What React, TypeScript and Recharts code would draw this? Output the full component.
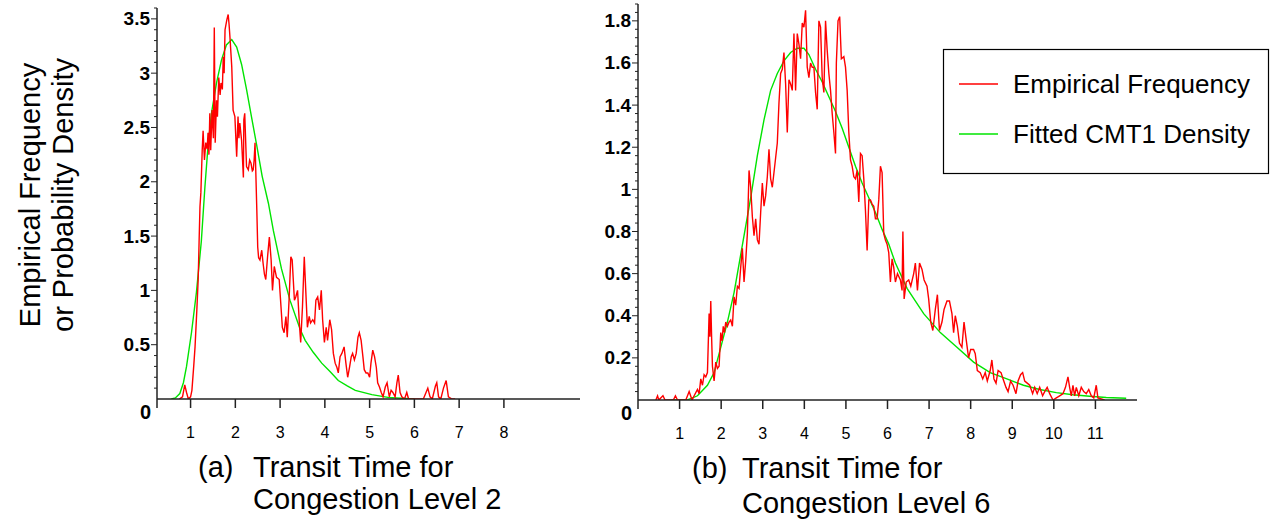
import React from "react"
import { LineChart, Line, XAxis, YAxis } from "recharts"

const FONT = '"Liberation Sans", Arial, sans-serif'
const RED = "#ff0000"
const GREEN = "#00e400"
const AXIS = "#222"

// (a) congestion level 2 — empirical frequency
const level2EmpiricalT = [
  0.75, 0.82, 0.87, 0.91, 0.95, 1.0, 1.03, 1.07, 1.1, 1.14, 1.17, 1.19, 1.21, 1.23, 1.26, 1.28, 1.31, 1.34,
  1.37, 1.39, 1.41, 1.43, 1.45, 1.48, 1.51, 1.53, 1.55, 1.58, 1.6, 1.63, 1.66, 1.68, 1.71, 1.73, 1.75, 1.77,
  1.81, 1.84, 1.86, 1.88, 1.92, 1.95, 1.99, 2.03, 2.06, 2.08, 2.1, 2.14, 2.18, 2.19, 2.21, 2.25, 2.29, 2.32,
  2.35, 2.38, 2.4, 2.42, 2.44, 2.48, 2.5, 2.52, 2.55, 2.59, 2.62, 2.65, 2.68, 2.72, 2.76, 2.8, 2.83, 2.87,
  2.92, 2.98, 3.02, 3.05, 3.09, 3.13, 3.16, 3.2, 3.24, 3.27, 3.32, 3.35, 3.39, 3.43, 3.46, 3.5, 3.54, 3.57,
  3.61, 3.65, 3.68, 3.73, 3.77, 3.8, 3.84, 3.88, 3.92, 3.95, 3.99, 4.03, 4.06, 4.11, 4.15, 4.19, 4.23, 4.27,
  4.3, 4.34, 4.38, 4.43, 4.47, 4.51, 4.55, 4.59, 4.62, 4.66, 4.7, 4.74, 4.77, 4.81, 4.85, 4.88, 4.92, 4.96,
  5.0, 5.03, 5.07, 5.11, 5.15, 5.18, 5.22, 5.26, 5.3, 5.35, 5.39, 5.44, 5.48, 5.52, 5.57, 5.61, 5.64, 5.68,
  5.72, 5.78, 5.83, 5.87, 6.2, 6.26, 6.3, 6.35, 6.4, 6.47, 6.5, 6.54, 6.59, 6.65, 6.71, 6.76, 6.84, 6.91,
]
const level2EmpiricalF = [
  0, 0.02, 0.13, 0.06, 0, 0.02, 0.08, 0.3, 0.48, 0.82, 1.1, 1.44, 1.77, 1.9, 2.29, 2.47, 2.2, 2.36,
  2.3, 2.45, 2.25, 2.63, 2.29, 2.66, 2.4, 3.42, 2.36, 2.75, 2.6, 2.96, 2.8, 2.91, 2.85, 3.15, 3.0, 3.4,
  3.49, 3.54, 3.45, 3.33, 3.06, 2.66, 2.6, 2.23, 2.6, 2.4, 2.54, 2.38, 2.04, 2.57, 2.63, 2.14, 2.11, 2.2,
  2.17, 2.1, 2.11, 2.2, 2.36, 1.74, 1.4, 1.3, 1.28, 1.37, 1.25, 1.15, 1.1, 1.31, 1.49, 1.28, 1.0, 1.22,
  1.12, 1.1, 0.85, 0.66, 0.61, 0.76, 0.57, 0.91, 1.31, 1.28, 0.91, 0.94, 1.0, 0.7, 0.52, 0.85, 1.31, 1.03,
  0.66, 0.76, 0.7, 0.73, 0.7, 0.91, 0.94, 0.82, 1.0, 0.73, 0.52, 0.66, 0.54, 0.73, 0.64, 0.42, 0.33, 0.29,
  0.24, 0.39, 0.42, 0.48, 0.33, 0.2, 0.29, 0.39, 0.42, 0.36, 0.42, 0.57, 0.61, 0.54, 0.39, 0.27, 0.24, 0.24,
  0.2, 0.33, 0.45, 0.39, 0.29, 0.15, 0.11, 0.06, 0.02, 0.11, 0.15, 0.02, 0.08, 0.06, 0.02, 0.15, 0.22, 0.06,
  0.02, 0, 0.06, 0, 0, 0.06, 0.1, 0.02, 0, 0.12, 0.15, 0.02, 0, 0.1, 0.17, 0.02, 0, 0,
]

// (a) congestion level 2 — fitted CMT1 density
const level2FittedT = [
  0.57, 0.66, 0.76, 0.84, 0.91, 1.02, 1.13, 1.24, 1.32, 1.39, 1.47, 1.58, 1.69, 1.8, 1.92, 2.03, 2.14,
  2.25, 2.36, 2.48, 2.6, 2.74, 2.85, 3.03, 3.22, 3.45, 3.56, 3.74, 3.93, 4.12, 4.3, 4.5, 4.68, 5.05, 5.41,
  5.79, 6.0,
]
const level2FittedF = [
  0, 0.01, 0.05, 0.15, 0.3, 0.61, 0.98, 1.45, 1.95, 2.33, 2.64, 2.91, 3.12, 3.26, 3.31, 3.24, 3.08,
  2.85, 2.6, 2.33, 2.05, 1.8, 1.55, 1.2, 0.91, 0.64, 0.54, 0.43, 0.33, 0.25, 0.17, 0.12, 0.08, 0.04, 0.015,
  0.005, 0,
]

// (b) congestion level 6 — empirical frequency
const level6EmpiricalT = [
  0.43, 0.47, 0.5, 0.6, 0.65, 0.85, 0.9, 0.95, 1.15, 1.23, 1.3, 1.35, 1.43, 1.47, 1.51, 1.55, 1.59, 1.63,
  1.67, 1.71, 1.73, 1.75, 1.77, 1.79, 1.83, 1.87, 1.91, 1.95, 1.99, 2.02, 2.05, 2.08, 2.11, 2.15, 2.19, 2.23,
  2.27, 2.31, 2.35, 2.39, 2.43, 2.47, 2.51, 2.55, 2.59, 2.63, 2.67, 2.71, 2.75, 2.79, 2.83, 2.87, 2.91, 2.95,
  2.99, 3.03, 3.07, 3.11, 3.15, 3.19, 3.23, 3.27, 3.31, 3.35, 3.39, 3.43, 3.47, 3.51, 3.55, 3.59, 3.63, 3.67,
  3.71, 3.75, 3.79, 3.83, 3.87, 3.91, 3.95, 3.99, 4.03, 4.07, 4.11, 4.15, 4.19, 4.23, 4.27, 4.31, 4.35, 4.39,
  4.43, 4.47, 4.51, 4.55, 4.59, 4.63, 4.67, 4.71, 4.75, 4.77, 4.81, 4.85, 4.89, 4.95, 4.99, 5.03, 5.07, 5.11,
  5.15, 5.19, 5.23, 5.27, 5.31, 5.35, 5.39, 5.43, 5.47, 5.51, 5.55, 5.59, 5.63, 5.67, 5.71, 5.75, 5.79, 5.83,
  5.87, 5.91, 5.95, 5.99, 6.03, 6.07, 6.11, 6.15, 6.19, 6.24, 6.31, 6.35, 6.37, 6.4, 6.45, 6.51, 6.56, 6.63,
  6.67, 6.72, 6.77, 6.83, 6.88, 6.95, 6.99, 7.04, 7.09, 7.15, 7.2, 7.25, 7.31, 7.36, 7.43, 7.49, 7.55, 7.59,
  7.63, 7.68, 7.73, 7.79, 7.84, 7.89, 7.95, 8.0, 8.07, 8.11, 8.16, 8.23, 8.29, 8.35, 8.4, 8.47, 8.51, 8.56,
  8.61, 8.66, 8.73, 8.78, 8.85, 8.9, 8.96, 9.02, 9.09, 9.14, 9.2, 9.25, 9.3, 9.36, 9.42, 9.49, 9.54, 9.6,
  9.66, 9.73, 9.78, 9.84, 9.9, 9.98, 10.06, 10.14, 10.22, 10.28, 10.34, 10.38, 10.42, 10.46, 10.5, 10.54,
  10.6, 10.66, 10.72, 10.78, 10.84, 10.9, 10.96, 11.02, 11.06, 11.22,
]
const level6EmpiricalF = [
  0, 0.02, 0, 0.02, 0, 0, 0.02, 0, 0, 0.04, 0, 0.02, 0.05, 0.03, 0.1, 0.07, 0.12, 0.11,
  0.13, 0.41, 0.3, 0.47, 0.3, 0.16, 0.09, 0.18, 0.15, 0.16, 0.32, 0.28, 0.35, 0.32, 0.37, 0.35, 0.37, 0.38,
  0.35, 0.49, 0.45, 0.54, 0.53, 0.63, 0.72, 0.56, 0.66, 0.79, 1.09, 1.01, 0.87, 0.78, 0.86, 0.76, 0.74, 0.89,
  1.03, 0.92, 0.97, 1.06, 1.19, 1.05, 1.01, 1.08, 1.15, 1.22, 1.41, 1.55, 1.57, 1.65, 1.5, 1.27, 1.52, 1.5,
  1.47, 1.74, 1.47, 1.74, 1.69, 1.62, 1.79, 1.77, 1.85, 1.58, 1.53, 1.6, 1.58, 1.58, 1.46, 1.38, 1.8, 1.77,
  1.53, 1.46, 1.8, 1.66, 1.55, 1.47, 1.36, 1.27, 1.17, 1.6, 1.8, 1.82, 1.62, 1.63, 1.58, 1.47, 1.27, 1.14,
  1.11, 1.06, 1.05, 1.09, 0.94, 1.17, 1.16, 1.05, 0.9, 0.71, 0.95, 0.95, 0.93, 0.92, 0.86, 0.86, 0.95, 1.11,
  1.08, 0.79, 0.76, 0.74, 0.7, 0.56, 0.67, 0.63, 0.56, 0.6, 0.57, 0.52, 0.8, 0.48, 0.56, 0.57, 0.54, 0.6,
  0.65, 0.52, 0.65, 0.62, 0.57, 0.54, 0.48, 0.37, 0.33, 0.43, 0.5, 0.33, 0.37, 0.43, 0.47, 0.47, 0.41, 0.32,
  0.4, 0.35, 0.27, 0.25, 0.37, 0.29, 0.2, 0.24, 0.24, 0.22, 0.14, 0.13, 0.1, 0.13, 0.09, 0.14, 0.19, 0.1,
  0.08, 0.14, 0.13, 0.1, 0.06, 0.04, 0.09, 0.07, 0.03, 0.09, 0.12, 0.13, 0.09, 0.08, 0.07, 0.03, 0.06, 0.03,
  0.06, 0.02, 0.04, 0.06, 0.03, 0, 0.01, 0.02, 0.03, 0.06, 0.11, 0.06, 0.02, 0.07, 0.02, 0.06,
  0.02, 0.06, 0.04, 0.03, 0.05, 0.02, 0.01, 0.07, 0.01, 0,
]

// (b) congestion level 6 — fitted CMT1 density
const level6FittedT = [
  0.8, 1.19, 1.43, 1.67, 1.83, 1.99, 2.15, 2.31, 2.47, 2.63, 2.71, 2.87, 3.03, 3.19, 3.35, 3.51, 3.67, 3.83,
  3.99, 4.11, 4.27, 4.43, 4.59, 4.75, 4.91, 5.07, 5.23, 5.39, 5.55, 5.71, 5.87, 6.03, 6.19, 6.47, 6.87, 7.27,
  7.67, 8.07, 8.47, 8.87, 9.27, 9.66, 10.06, 10.46, 10.86, 11.26, 11.74,
]
const level6FittedF = [
  0, 0, 0.02, 0.07, 0.13, 0.25, 0.37, 0.51, 0.69, 0.87, 0.96, 1.16, 1.33, 1.47, 1.55, 1.61, 1.65, 1.67,
  1.67, 1.64, 1.57, 1.51, 1.44, 1.37, 1.29, 1.2, 1.11, 1.03, 0.96, 0.89, 0.81, 0.74, 0.65, 0.53, 0.41, 0.32,
  0.25, 0.18, 0.13, 0.1, 0.07, 0.05, 0.035, 0.025, 0.018, 0.012, 0.008,
]

const level2XTicks = [1, 2, 3, 4, 5, 6, 7, 8]
const level6XTicks = [1, 2, 3, 4, 5, 6, 7, 8, 9, 10, 11]

const toPoints = (t: number[], f: number[]) => t.map((x, i) => ({ t: x, f: f[i] }))

// minor tick grid for the y axes (labels only on the major ones)
const tickGrid = (max: number, step: number) =>
  Array.from({ length: Math.round(max / step) + 1 }, (_, i) => parseFloat((i * step).toFixed(2)))

function YTick(props: any) {
  const { x, y, payload, major } = props
  const v = payload.value
  const isMajor = Math.abs(v / major - Math.round(v / major)) < 1e-6
  if (v === 0) {
    return (
      <g>
        <line x1={x} x2={x} y1={y} y2={y + 9} stroke={AXIS} strokeWidth={1.5} />
        <text x={x - 6} y={y + 13} textAnchor="end" dominantBaseline="central"
          fontFamily={FONT} fontWeight="bold" fontSize={20} fill="#000">0</text>
      </g>
    )
  }
  return (
    <g>
      <line x1={x - (isMajor ? 6 : 3)} x2={x} y1={y} y2={y} stroke={AXIS} strokeWidth={1} />
      {isMajor && (
        <text x={x - 7} y={y} textAnchor="end" dominantBaseline="central"
          fontFamily={FONT} fontWeight="bold" fontSize={19} fill="#000">
          {String(v)}
        </text>
      )}
    </g>
  )
}

function XTick(props: any) {
  const { x, y, payload } = props
  return (
    <g>
      <line x1={x} x2={x} y1={y} y2={y + 9} stroke={AXIS} strokeWidth={1.5} />
      <text x={x} y={y + 33} textAnchor="middle" dominantBaseline="central"
        fontFamily={FONT} fontSize={16} fill="#000">{payload.value}</text>
    </g>
  )
}

function Panel({ width, margin, yWidth, xDomain, yMax, yStep, yMajor, xTicks, empirical, fitted }: any) {
  return (
    <LineChart width={width} height={450} margin={margin}>
      <XAxis type="number" dataKey="t" domain={xDomain} ticks={xTicks} interval={0}
        tickSize={0} tickMargin={0} tickLine={false} allowDataOverflow height={45}
        axisLine={{ stroke: AXIS, strokeWidth: 1.5 }} tick={XTick} />
      <YAxis type="number" domain={[0, yMax]} ticks={tickGrid(yMax - 0.01, yStep)} interval={0}
        tickSize={0} tickMargin={0} tickLine={false} allowDataOverflow width={yWidth}
        axisLine={{ stroke: AXIS, strokeWidth: 1.5 }}
        tick={(p: any) => <YTick {...p} major={yMajor} />} />
      <Line data={fitted} dataKey="f" type="linear" stroke={GREEN} strokeWidth={1.4}
        dot={false} isAnimationActive={false} />
      <Line data={empirical} dataKey="f" type="linear" stroke={RED} strokeWidth={1.4}
        dot={false} isAnimationActive={false} />
    </LineChart>
  )
}

export default function App() {
  const txt = { fontFamily: FONT, fill: "#000" }
  return (
    <div style={{ position: "absolute", left: 0, top: 0, width: 1272, height: 522, background: "#fff" }}>
      <div style={{ position: "absolute", left: 0, top: 0 }}>
        <Panel width={600} margin={{ top: 8, right: 20, bottom: 6, left: 97 }} yWidth={60}
          xDomain={[0.25, 9.7]} yMax={3.6} yStep={0.1} yMajor={0.5} xTicks={level2XTicks}
          empirical={toPoints(level2EmpiricalT, level2EmpiricalF)}
          fitted={toPoints(level2FittedT, level2FittedF)} />
      </div>
      <div style={{ position: "absolute", left: 580, top: 0 }}>
        <Panel width={580} margin={{ top: 4, right: 23, bottom: 5, left: 8 }} yWidth={50}
          xDomain={[0, 12]} yMax={1.88} yStep={0.04} yMajor={0.2} xTicks={level6XTicks}
          empirical={toPoints(level6EmpiricalT, level6EmpiricalF)}
          fitted={toPoints(level6FittedT, level6FittedF)} />
      </div>
      <svg width={1272} height={522} style={{ position: "absolute", left: 0, top: 0, pointerEvents: "none" }}>
        <text transform="translate(30,195) rotate(-90)" textAnchor="middle" dominantBaseline="central"
          fontSize={29} {...txt}>Empirical Frequency</text>
        <text transform="translate(63,195) rotate(-90)" textAnchor="middle" dominantBaseline="central"
          fontSize={29} {...txt}>or Probability Density</text>

        <rect x={943.5} y={49.5} width={325} height={124} fill="#fff" stroke="#000" strokeWidth={1.2} />
        <line x1={959} x2={998} y1={84} y2={84} stroke={RED} strokeWidth={1.4} />
        <line x1={959} x2={998} y1={134} y2={134} stroke={GREEN} strokeWidth={1.4} />
        <text x={1013} y={93} fontSize={26} {...txt}>Empirical Frequency</text>
        <text x={1013} y={143} fontSize={26} {...txt}>Fitted CMT1 Density</text>

        <text x={198} y={477} fontSize={29} {...txt}>(a)</text>
        <text x={253} y={477} fontSize={29} {...txt}>Transit Time for</text>
        <text x={253} y={509} fontSize={29} {...txt}>Congestion Level 2</text>
        <text x={692} y={478} fontSize={29} {...txt}>(b)</text>
        <text x={742} y={478} fontSize={29} {...txt}>Transit Time for</text>
        <text x={742} y={513} fontSize={29} {...txt}>Congestion Level 6</text>
      </svg>
    </div>
  )
}
